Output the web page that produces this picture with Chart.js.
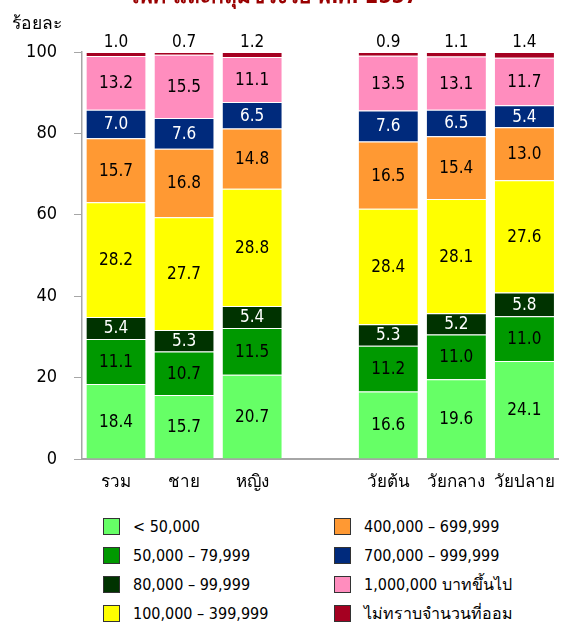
<!DOCTYPE html>
<html>
<head>
<meta charset="utf-8">
<script src="https://cdn.jsdelivr.net/npm/chart.js@4.4.1/dist/chart.umd.min.js"></script>
<style>
    body { margin: 0; background: #fff; font-family: Tahoma, 'DejaVu Sans Condensed', sans-serif; }
    #wrap { position: relative; width: 568px; height: 626px; overflow: hidden; }
    #title { position: absolute; left: 0; width: 550px; top: -14px; text-align: center; color: #990000; font-size: 21px; font-weight: bold; line-height: 1; white-space: nowrap; }
    #ylab { position: absolute; left: 12px; top: 9px; font-size: 17.5px; color: #000; }
    #legend { position: absolute; left: 0; top: 517px; width: 568px; }
    .lg { position: absolute; display: flex; align-items: center; height: 18px; font-size: 16px; color: #000; }
    .lg i { display: inline-block; width: 15px; height: 15px; border: 1px solid #333; margin-right: 13px; }
</style>
</head>
<body>
<div id="wrap">
    <div id="title">เพศ และกลุ่มช่วงวัย พ.ศ. 2557</div>
    <div id="ylab">ร้อยละ</div>
    <canvas id="chart" width="568" height="500"></canvas>
    <div id="legend"></div>
</div>
<script>
// Data (bottom to top of each bar)
const cats = ['รวม', 'ชาย', 'หญิง', '', 'วัยต้น', 'วัยกลาง', 'วัยปลาย'];
const seriesNames = ['< 50,000', '50,000 – 79,999', '80,000 – 99,999', '100,000 – 399,999',
    '400,000 – 699,999', '700,000 – 999,999', '1,000,000 บาทขึ้นไป', 'ไม่ทราบจำนวนที่ออม'];
const colors = ['#66FF66', '#009900', '#003300', '#FFFF00', '#FF9933', '#002A7C', '#FF8DBE', '#A50021'];
const lt50k   = [18.4, 15.7, 20.7, null, 16.6, 19.6, 24.1];
const k50_79  = [11.1, 10.7, 11.5, null, 11.2, 11.0, 11.0];
const k80_99  = [5.4, 5.3, 5.4, null, 5.3, 5.2, 5.8];
const k100_399 = [28.2, 27.7, 28.8, null, 28.4, 28.1, 27.6];
const k400_699 = [15.7, 16.8, 14.8, null, 16.5, 15.4, 13.0];
const k700_999 = [7.0, 7.6, 6.5, null, 7.6, 6.5, 5.4];
const m1plus  = [13.2, 15.5, 11.1, null, 13.5, 13.1, 11.7];
const unknown = [1.0, 0.7, 1.2, null, 0.9, 1.1, 1.4];
const yTicks = [0, 20, 40, 60, 80, 100];

const series = [lt50k, k50_79, k80_99, k100_399, k400_699, k700_999, m1plus, unknown];
const whiteText = [2, 5];
const FONT = "Tahoma, 'DejaVu Sans Condensed', sans-serif";

// Value labels inside the segments, last series above the bar
const valueLabels = {
    id: 'valueLabels',
    afterDatasetsDraw(chart) {
        const ctx = chart.ctx;
        ctx.save();
        ctx.font = '17px ' + FONT;
        ctx.textAlign = 'center';
        chart.data.datasets.forEach((ds, di) => {
            chart.getDatasetMeta(di).data.forEach((bar, i) => {
                const v = ds.data[i];
                if (v == null) return;
                const txt = v.toFixed(1);
                if (di === series.length - 1) {
                    ctx.fillStyle = '#000';
                    ctx.textBaseline = 'bottom';
                    ctx.fillText(txt, bar.x, bar.y - 1);
                } else {
                    ctx.fillStyle = whiteText.includes(di) ? '#fff' : '#000';
                    ctx.textBaseline = 'middle';
                    ctx.fillText(txt, bar.x, (bar.y + bar.base) / 2 + 1);
                }
            });
        });
        ctx.restore();
    }
};

new Chart(document.getElementById('chart'), {
    type: 'bar',
    data: {
        labels: cats,
        datasets: series.map((d, i) => ({
            label: seriesNames[i],
            data: d,
            backgroundColor: colors[i],
            borderColor: 'rgba(255,255,255,0.45)',
            borderWidth: { top: 1, bottom: 0, left: 0, right: 0 },
            borderSkipped: false,
            barPercentage: 0.87,
            categoryPercentage: 1
        }))
    },
    options: {
        responsive: false,
        animation: false,
        layout: { padding: { top: 52, right: 2, left: 0, bottom: 0 } },
        plugins: { legend: { display: false }, tooltip: { enabled: false } },
        scales: {
            x: {
                stacked: true,
                grid: { display: false, drawTicks: false },
                border: { color: '#a6a6a6', width: 2 },
                ticks: { color: '#000', font: { size: 17, family: FONT }, padding: 13 },
                afterFit: s => { s.height = 41; }
            },
            y: {
                stacked: true,
                min: 0, max: 100,
                afterBuildTicks: s => { s.ticks = yTicks.map(v => ({ value: v })); },
                grid: { drawOnChartArea: false, tickLength: 8, color: '#a6a6a6' },
                border: { color: '#a6a6a6', width: 1.5 },
                ticks: { color: '#000', font: { size: 18, family: FONT }, padding: 17 },
                afterFit: s => { s.width = 82; }
            }
        }
    },
    plugins: [valueLabels]
});

// Legend: two columns of four
const legend = document.getElementById('legend');
seriesNames.forEach((name, i) => {
    const col = Math.floor(i / 4), row = i % 4;
    const el = document.createElement('div');
    el.className = 'lg';
    el.style.left = (col ? 334 : 103) + 'px';
    el.style.top = (row * 29) + 'px';
    el.innerHTML = `<i style="background:${colors[i]}"></i><span></span>`;
    el.querySelector('span').textContent = name;
    legend.appendChild(el);
});
</script>
</body>
</html>
